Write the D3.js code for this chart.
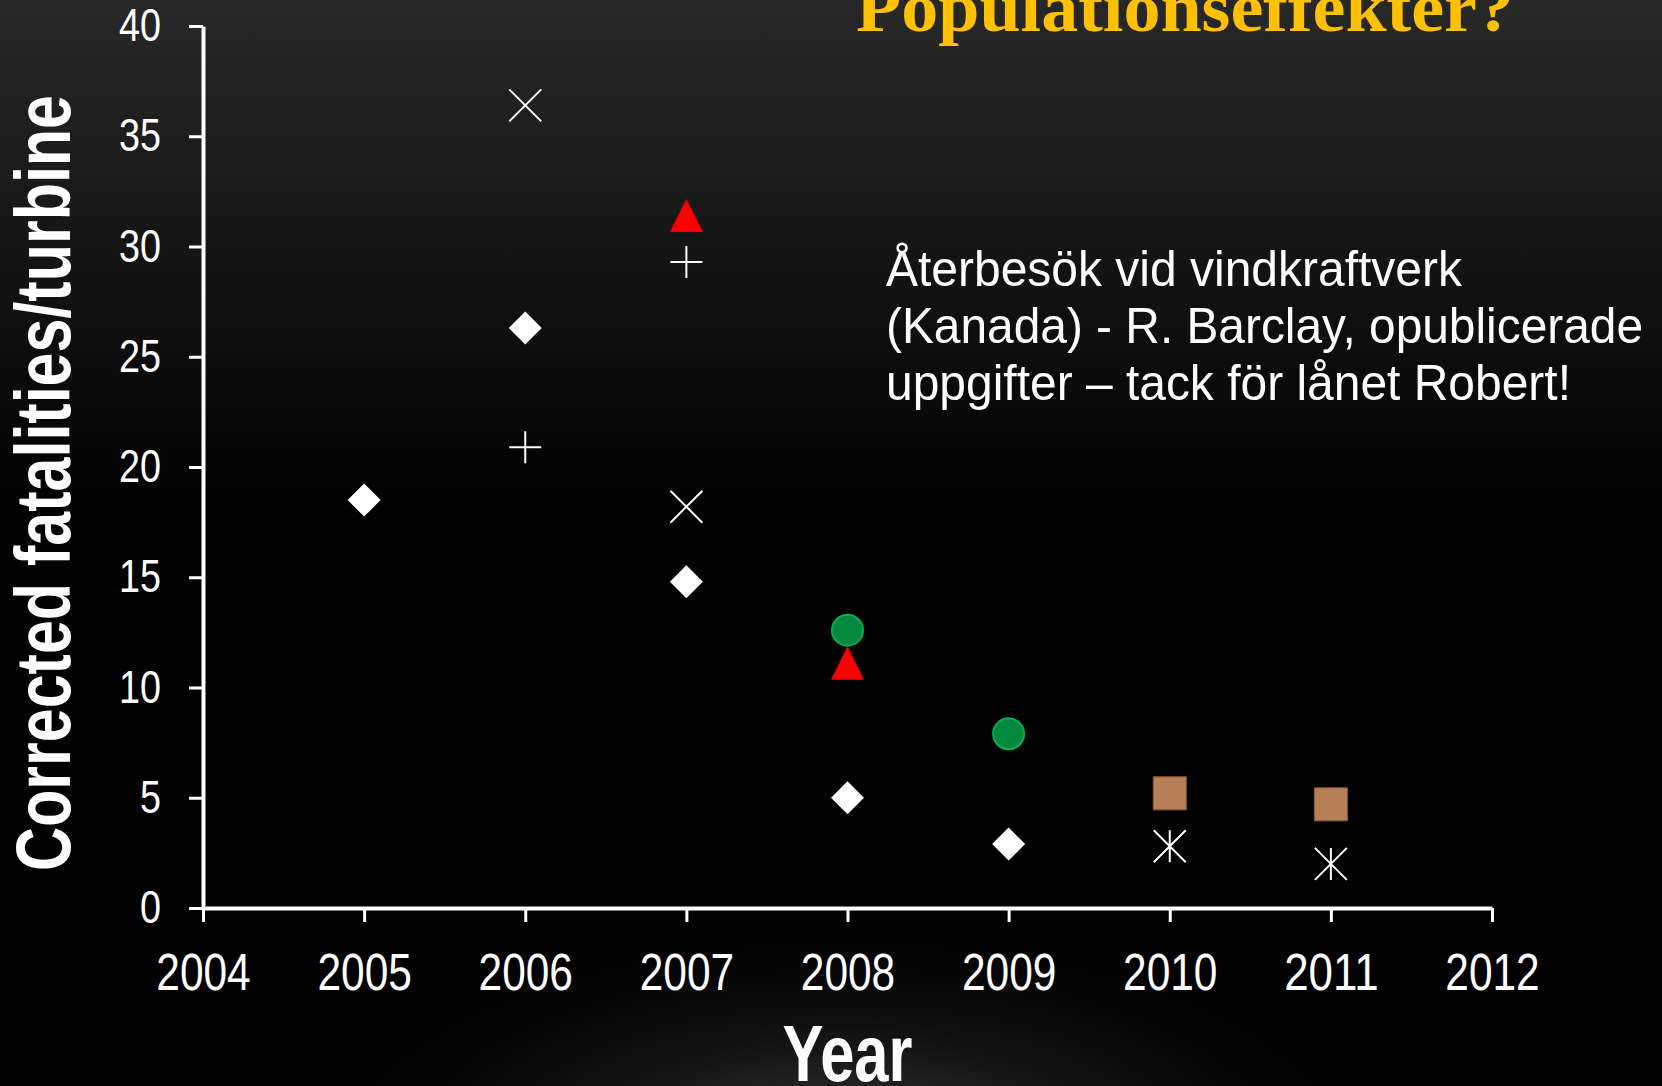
<!DOCTYPE html>
<html>
<head>
<meta charset="utf-8">
<script src="https://cdn.jsdelivr.net/npm/d3@7"></script>
<style>
    body { margin: 0; background: #000; }
    #chart { width: 1662px; height: 1086px; }
</style>
</head>
<body>
<div id="chart"></div>
<script>
"use strict";

// tick labels
const yearTicks = [2004, 2005, 2006, 2007, 2008, 2009, 2010, 2011, 2012];
const valueTicks = [0, 5, 10, 15, 20, 25, 30, 35, 40];

// series
const diamondYears = [2005, 2006, 2007, 2008, 2009];
const diamondValues = [18.5, 26.3, 14.8, 5.0, 2.9];
const timesYears = [2006, 2007];
const timesValues = [36.4, 18.2];
const plusYears = [2006, 2007];
const plusValues = [20.9, 29.3];
const triangleYears = [2007, 2008];
const triangleValues = [31.4, 11.1];
const circleYears = [2008, 2009];
const circleValues = [12.6, 7.9];
const squareYears = [2010, 2011];
const squareValues = [5.2, 4.7];
const asteriskYears = [2010, 2011];
const asteriskValues = [2.8, 2.0];

const titleText = "Populationseffekter?";
const noteLines = [
    "Återbesök vid vindkraftverk",
    "(Kanada) - R. Barclay, opublicerade",
    "uppgifter – tack för lånet Robert!"
];

(function () {
    const width = 1662;
    const height = 1086;
    const margin = {top: 26, right: 170, bottom: 178, left: 203};
    // no narrow face installed, so regular Liberation Sans squeezed with textLength
    const sans = "'Liberation Sans', Arial, sans-serif";

    const svg = d3.select("#chart")
        .append("svg")
        .attr("width", width)
        .attr("height", height);

    const defs = svg.append("defs");

    const bg = defs.append("linearGradient")
        .attr("id", "bg").attr("x1", 0).attr("y1", 0).attr("x2", 0).attr("y2", 1);
    bg.append("stop").attr("offset", "0%").attr("stop-color", "#282828");
    bg.append("stop").attr("offset", "48%").attr("stop-color", "#000");
    bg.append("stop").attr("offset", "100%").attr("stop-color", "#000");

    const glow = defs.append("radialGradient")
        .attr("id", "glow")
        .attr("gradientUnits", "userSpaceOnUse")
        .attr("cx", 845).attr("cy", 1150).attr("r", 620)
        .attr("gradientTransform", "translate(845,1150) scale(1,0.42) translate(-845,-1150)");
    glow.append("stop").attr("offset", "0%").attr("stop-color", "#3c3c3c").attr("stop-opacity", 1);
    glow.append("stop").attr("offset", "100%").attr("stop-color", "#000").attr("stop-opacity", 0);

    svg.append("rect").attr("width", width).attr("height", height).attr("fill", "url(#bg)");
    svg.append("rect").attr("width", width).attr("height", height).attr("fill", "url(#glow)");

    const x = d3.scaleLinear()
        .domain([2004, 2012])
        .range([margin.left, width - margin.right]);
    const y = d3.scaleLinear()
        .domain([0, 40])
        .range([height - margin.bottom, margin.top]);

    // title, clipped by the top edge like on the slide
    svg.append("text")
        .attr("x", 856)
        .attr("y", 31)
        .attr("fill", "#ffc000")
        .attr("font-family", "'Liberation Serif', 'Times New Roman', serif")
        .attr("font-weight", "bold")
        .attr("font-size", 70)
        .attr("textLength", 658)
        .attr("lengthAdjust", "spacingAndGlyphs")
        .text(titleText);

    // axes
    const xAxis = d3.axisBottom(x)
        .tickValues(yearTicks)
        .tickFormat(d3.format("d"))
        .tickSize(14)
        .tickSizeOuter(0)
        .tickPadding(31);
    const yAxis = d3.axisLeft(y)
        .tickValues(valueTicks)
        .tickSize(14)
        .tickSizeOuter(0)
        .tickPadding(28);

    const gx = svg.append("g")
        .attr("transform", `translate(0,${height - margin.bottom})`)
        .call(xAxis);
    const gy = svg.append("g")
        .attr("transform", `translate(${margin.left},0)`)
        .call(yAxis);

    for (let g of [gx, gy]) {
        g.select(".domain").attr("stroke", "#fff").attr("stroke-width", 4);
        g.selectAll(".tick line").attr("stroke", "#fff").attr("stroke-width", 3);
        g.selectAll(".tick text")
            .attr("fill", "#fff")
            .attr("font-family", sans)
            .attr("lengthAdjust", "spacingAndGlyphs");
    }
    gx.selectAll(".tick text")
        .attr("font-size", 52)
        .attr("textLength", d => String(d).length * 23.6);
    gy.selectAll(".tick text")
        .attr("font-size", 46)
        .attr("textLength", d => String(d).length * 21);

    // axis titles
    svg.append("text")
        .attr("transform", `translate(70,${(95 + 871) / 2}) rotate(-90)`)
        .attr("text-anchor", "middle")
        .attr("fill", "#fff")
        .attr("font-family", sans)
        .attr("font-weight", "bold")
        .attr("font-size", 78)
        .attr("textLength", 776)
        .attr("lengthAdjust", "spacingAndGlyphs")
        .text("Corrected fatalities/turbine");

    svg.append("text")
        .attr("x", (x.range()[0] + x.range()[1]) / 2)
        .attr("y", 1081)
        .attr("text-anchor", "middle")
        .attr("fill", "#fff")
        .attr("font-family", sans)
        .attr("font-weight", "bold")
        .attr("font-size", 80)
        .attr("textLength", 130)
        .attr("lengthAdjust", "spacingAndGlyphs")
        .text("Year");

    // note
    const noteLengths = [576, 757, 685];
    svg.append("g")
        .selectAll("text")
        .data(noteLines)
        .enter()
        .append("text")
        .attr("x", 886)
        .attr("y", (d, i) => 286 + i * 57)
        .attr("fill", "#fff")
        .attr("font-family", sans)
        .attr("font-size", 50)
        .attr("textLength", (d, i) => noteLengths[i])
        .attr("lengthAdjust", "spacingAndGlyphs")
        .text(d => d);

    // custom marker shapes, size = half width in px
    const shapes = {
        diamond: {draw(c, r) { c.moveTo(0, -r); c.lineTo(r, 0); c.lineTo(0, r); c.lineTo(-r, 0); c.closePath(); }},
        times: {draw(c, r) { c.moveTo(-r, -r); c.lineTo(r, r); c.moveTo(r, -r); c.lineTo(-r, r); }},
        plus: {draw(c, r) { c.moveTo(-r, 0); c.lineTo(r, 0); c.moveTo(0, -r); c.lineTo(0, r); }},
        triangle: {draw(c, r) { c.moveTo(0, -r); c.lineTo(r, r); c.lineTo(-r, r); c.closePath(); }},
        circle: {draw(c, r) { c.moveTo(r, 0); c.arc(0, 0, r, 0, 2 * Math.PI); }},
        square: {draw(c, r) { c.rect(-r, -r, 2 * r, 2 * r); }},
        asterisk: {draw(c, r) { c.moveTo(-r, -r); c.lineTo(r, r); c.moveTo(r, -r); c.lineTo(-r, r); c.moveTo(0, -r); c.lineTo(0, r); }}
    };

    const series = [
        {years: diamondYears, values: diamondValues, shape: "diamond", r: 16.5, fill: "#fff", stroke: "none", sw: 0},
        {years: timesYears, values: timesValues, shape: "times", r: 16, fill: "none", stroke: "#fff", sw: 2},
        {years: plusYears, values: plusValues, shape: "plus", r: 16, fill: "none", stroke: "#fff", sw: 2},
        {years: triangleYears, values: triangleValues, shape: "triangle", r: 16, fill: "#ff0000", stroke: "#e00000", sw: 1},
        {years: circleYears, values: circleValues, shape: "circle", r: 15.5, fill: "#00883e", stroke: "#00b050", sw: 2},
        {years: squareYears, values: squareValues, shape: "square", r: 16.5, fill: "#b67f58", stroke: "#8c5c3c", sw: 1},
        {years: asteriskYears, values: asteriskValues, shape: "asterisk", r: 16, fill: "none", stroke: "#fff", sw: 2}
    ];

    const marks = svg.append("g");
    for (let s of series) {
        const sym = d3.symbol().type(shapes[s.shape]).size(s.r);
        marks.append("g")
            .selectAll("path")
            .data(s.years.map((yr, i) => [yr, s.values[i]]))
            .enter()
            .append("path")
            .attr("transform", d => `translate(${x(d[0])},${y(d[1])})`)
            .attr("d", sym)
            .attr("fill", s.fill)
            .attr("stroke", s.stroke)
            .attr("stroke-width", s.sw);
    }
})();
</script>
</body>
</html>
